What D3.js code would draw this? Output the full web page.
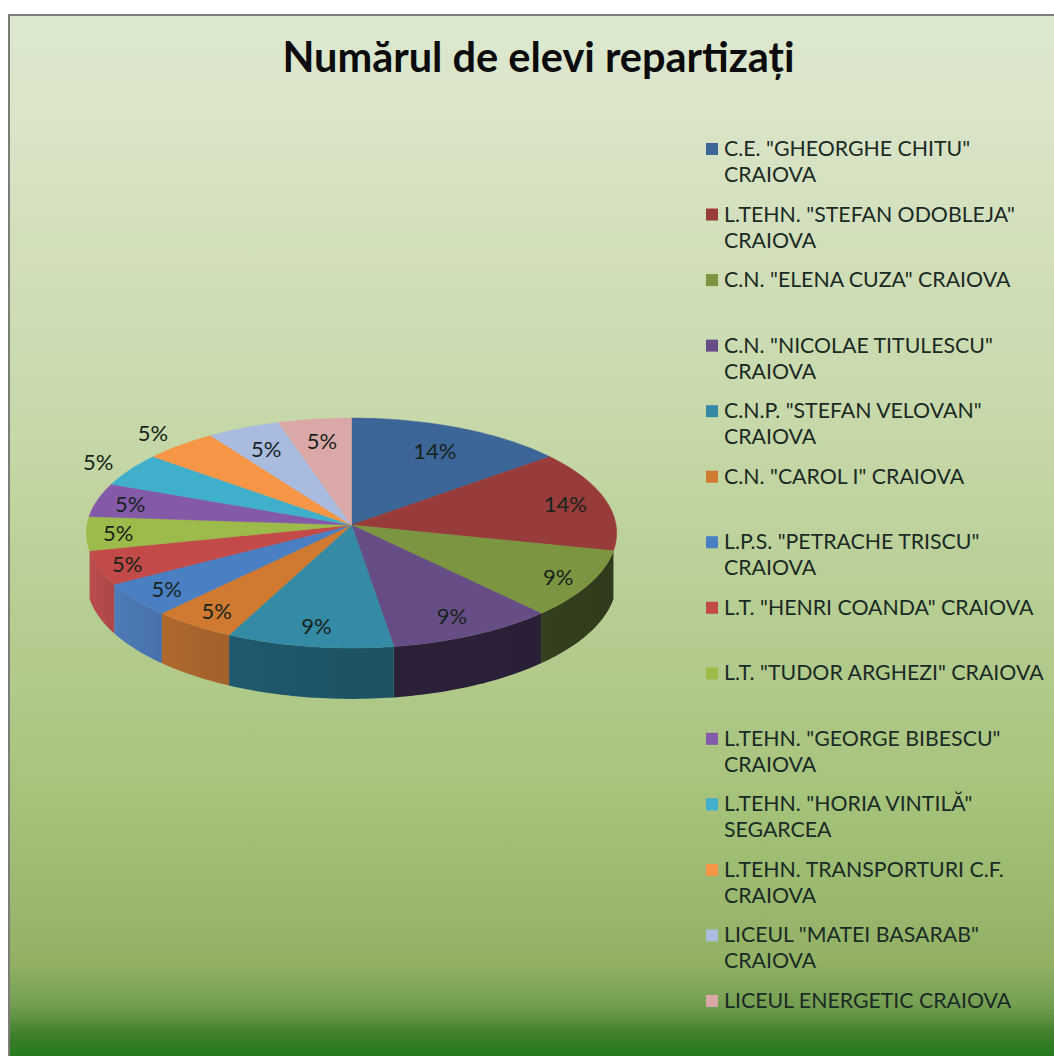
<!DOCTYPE html>
<html>
<head>
<meta charset="utf-8">
<script src="https://cdnjs.cloudflare.com/ajax/libs/d3/7.8.5/d3.min.js"></script>
<style>
  html, body { margin: 0; padding: 0; background: #fff; }
  svg { display: block; }
  text { font-family: Lato, "Open Sans", sans-serif; }
</style>
</head>
<body>
<div class="chart"></div>
<script>
(function() {

// chart data
  var titleText = 'Numărul de elevi repartizați';
  var categories = [
    'C.E. "GHEORGHE CHITU"\nCRAIOVA',
    'L.TEHN. "STEFAN ODOBLEJA"\nCRAIOVA',
    'C.N. "ELENA CUZA" CRAIOVA',
    'C.N. "NICOLAE TITULESCU"\nCRAIOVA',
    'C.N.P. "STEFAN VELOVAN"\nCRAIOVA',
    'C.N. "CAROL I" CRAIOVA',
    'L.P.S. "PETRACHE TRISCU"\nCRAIOVA',
    'L.T. "HENRI COANDA" CRAIOVA',
    'L.T. "TUDOR ARGHEZI" CRAIOVA',
    'L.TEHN. "GEORGE BIBESCU"\nCRAIOVA',
    'L.TEHN. "HORIA VINTILĂ"\nSEGARCEA',
    'L.TEHN. TRANSPORTURI C.F.\nCRAIOVA',
    'LICEUL "MATEI BASARAB"\nCRAIOVA',
    'LICEUL ENERGETIC CRAIOVA'
  ];
  var values = [3, 3, 2, 2, 2, 1, 1, 1, 1, 1, 1, 1, 1, 1];
  var percentLabels = ['14%', '14%', '9%', '9%', '9%', '5%', '5%', '5%', '5%', '5%', '5%', '5%', '5%', '5%'];

// slice colours, top face and wall
  var topColors = ['#3d6698', '#973c3a', '#7b9540', '#664d85', '#358aa5', '#cf7a30',
    '#4a7fc4', '#c24b49', '#9dbb4b', '#8459a8', '#3fafcc', '#f79646', '#a9bbde', '#dba8a8'];
  var wallColors = ['#2a4568', '#6a2a28', '#333d1d', '#2b2038', '#1f5568', '#a9642c',
    '#4a76b0', '#b2494b', '#7d953c', '#5f3f7c', '#2d7f94', '#b86d32', '#7d8ca8', '#a87e7e'];
  var labelRadius = [0.76, 0.84, 0.875, 0.83, 0.84, 0.86, 0.86, 0.89, 0.88, 0.87, 1.15, 1.17, 0.78, 0.79];

  var width = 1054, height = 1056;

  var svg = d3.select('.chart')
    .append('svg')
    .attr('width', width)
    .attr('height', height);

  var defs = svg.append('defs');

// panel background
  var bg = defs.append('linearGradient')
    .attr('id', 'panelFill')
    .attr('x1', 0).attr('y1', 0).attr('x2', 0).attr('y2', 1);
  [[0, '#dce9d0'], [0.1, '#dae4c8'], [0.4, '#c6d8a8'], [0.75, '#a6c37c'],
   [0.91, '#93b165'], [0.95, '#759f52'], [0.98, '#3f7f2a'], [1, '#257a1c']].forEach(function(s) {
    bg.append('stop').attr('offset', s[0]).attr('stop-color', s[1]);
  });

  svg.append('rect')
    .attr('x', 9)
    .attr('y', 15)
    .attr('width', width - 9)
    .attr('height', height - 15)
    .attr('fill', 'url(#panelFill)');
  svg.append('path')
    .attr('d', 'M9,' + height + 'V15H' + width)
    .attr('fill', 'none')
    .attr('stroke', '#7d7d78')
    .attr('stroke-width', 2);

  svg.append('text')
    .attr('x', 538.5)
    .attr('y', 72)
    .attr('text-anchor', 'middle')
    .attr('font-size', 41.5)
    .attr('font-weight', 700)
    .attr('fill', '#0b0b0b')
    .text(titleText);

// pie, projected with a small perspective
  var cx = 351.5, cy = 525, rx = 264.5, ry = 114.4, persp = 0.0696, depth = 47.4;

  var project = function(angle, r, drop) {
    var u = Math.sin(angle) * r;
    var v = Math.cos(angle) * r;
    var s = 1 / (1 + persp * v);
    return [cx + rx * u * s, cy - ry * v * s + drop * s];
  };

  var arcPoints = function(a0, a1, r, drop) {
    var pts = [];
    var n = Math.ceil((a1 - a0) / 0.02);
    for (var i = 0; i <= n; i++) {
      pts.push(project(a0 + (a1 - a0) * i / n, r, drop));
    }
    return pts;
  };

  var line = d3.line().curve(d3.curveLinear);
  var slices = d3.pie().sort(null).value(function(d) { return d; })(values);
  var color = d3.scaleOrdinal().domain(d3.range(values.length)).range(topColors);
  var wallColor = d3.scaleOrdinal().domain(d3.range(values.length)).range(wallColors);

// walls, only the ones facing the viewer
  var front = slices.filter(function(d) {
    return d.endAngle > Math.PI * 0.6 && d.startAngle < Math.PI * 1.4;
  });

  front.forEach(function(d) {
    var g = defs.append('linearGradient')
      .attr('id', 'wall' + d.index)
      .attr('x1', 0).attr('y1', 0).attr('x2', 1).attr('y2', 0);
    g.append('stop').attr('offset', 0).attr('stop-color', d3.color(wallColor(d.index)).brighter(0.12));
    g.append('stop').attr('offset', 1).attr('stop-color', d3.color(wallColor(d.index)).darker(0.12));
  });

  svg.selectAll('path.wall').data(front).enter()
    .append('path')
    .attr('class', 'wall')
    .attr('fill', function(d) { return 'url(#wall' + d.index + ')'; })
    .attr('d', function(d) {
      var upper = arcPoints(d.startAngle, d.endAngle, 1, 0);
      var lower = arcPoints(d.startAngle, d.endAngle, 1, depth).reverse();
      return line(upper.concat(lower)) + 'Z';
    });

// top faces
  svg.selectAll('path.top').data(slices).enter()
    .append('path')
    .attr('class', 'top')
    .attr('fill', function(d) { return color(d.index); })
    .attr('stroke', function(d) { return color(d.index); })
    .attr('stroke-width', 0.5)
    .attr('d', function(d) {
      return line([[cx, cy]].concat(arcPoints(d.startAngle, d.endAngle, 1, 0))) + 'Z';
    });

// percent labels
  svg.selectAll('text.pct').data(slices).enter()
    .append('text')
    .attr('class', 'pct')
    .attr('text-anchor', 'middle')
    .attr('dominant-baseline', 'central')
    .attr('font-size', 22)
    .attr('fill', '#17231c')
    .attr('x', function(d, i) { return project((d.startAngle + d.endAngle) / 2, labelRadius[i], 0)[0]; })
    .attr('y', function(d, i) { return project((d.startAngle + d.endAngle) / 2, labelRadius[i], 0)[1]; })
    .text(function(d, i) { return percentLabels[i]; });

// legend
  var legendY = d3.scalePoint()
    .domain(d3.range(categories.length))
    .range([149, 1001]);

  var legend = svg.selectAll('g.legend').data(categories).enter()
    .append('g')
    .attr('class', 'legend')
    .attr('transform', function(d, i) { return 'translate(706,' + legendY(i) + ')'; });

  legend.append('rect')
    .attr('x', 0)
    .attr('y', -6)
    .attr('width', 12)
    .attr('height', 12)
    .attr('fill', function(d, i) { return color(i); });

  legend.each(function(d) {
    d3.select(this).selectAll('text').data(d.split('\n')).enter()
      .append('text')
      .attr('x', 18)
      .attr('y', function(t, j) { return j * 26 + 7; })
      .attr('font-size', 21.3)
      .attr('fill', '#1a2a24')
      .text(function(t) { return t; });
  });

})();
</script>
</body>
</html>
